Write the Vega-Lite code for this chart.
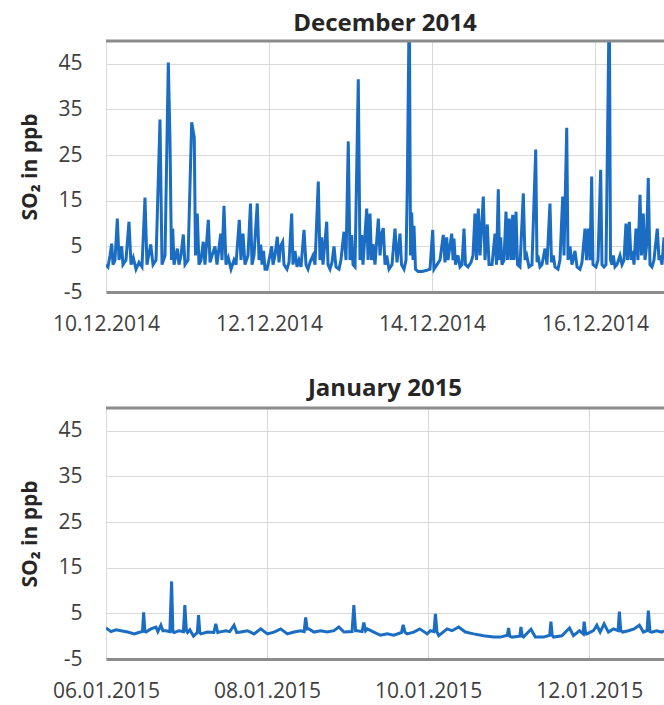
{
  "$schema": "https://vega.github.io/schema/vega-lite/v6.json",
  "padding": {"left": 19, "top": 11, "right": 0, "bottom": 6},
  "background": "white",
  "config": {
    "font": "Open Sans",
    "view": {"stroke": null},
    "title": {"fontSize": 24, "fontWeight": "bold", "color": "#262626", "font": "Open Sans", "offset": 4},
    "concat": {"spacing": 42},
    "axis": {"labelFont": "Open Sans", "labelColor": "#404040", "labelFontSize": 21, "ticks": false, "gridColor": "#d9d9d9", "gridWidth": 1, "titleFont": "Open Sans"},
    "axisX": {"domainColor": "#8c8c8c", "domainWidth": 3, "labelPadding": 21, "title": null, "labelFlush": false, "format": "%d.%m.%Y"},
    "axisY": {"domain": false, "labelPadding": 24, "titlePadding": 17, "titleFontSize": 21, "titleFontWeight": "bold", "titleColor": "#262626", "labelExpr": "'' + datum.value"}
  },
  "datasets": {
    "dec": [
      {"t":"2014-12-10T00:00","v":1.0},{"t":"2014-12-10T00:35","v":0.5},{"t":"2014-12-10T01:11","v":3},{"t":"2014-12-10T01:41","v":5.6},{"t":"2014-12-10T02:04","v":1},{"t":"2014-12-10T02:39","v":2},{"t":"2014-12-10T03:20","v":11.1},{"t":"2014-12-10T03:50","v":2},{"t":"2014-12-10T04:37","v":5},{"t":"2014-12-10T05:00","v":1},{"t":"2014-12-10T05:53","v":2},{"t":"2014-12-10T06:46","v":10.4},{"t":"2014-12-10T07:22","v":1},{"t":"2014-12-10T08:02","v":2.5},{"t":"2014-12-10T08:50","v":0},{"t":"2014-12-10T09:43","v":1.5},{"t":"2014-12-10T10:36","v":0.5},{"t":"2014-12-10T11:29","v":15.7},{"t":"2014-12-10T12:04","v":1},{"t":"2014-12-10T13:10","v":5.4},{"t":"2014-12-10T13:51","v":1},{"t":"2014-12-10T14:44","v":2},{"t":"2014-12-10T15:54","v":32.8},{"t":"2014-12-10T16:30","v":1},{"t":"2014-12-10T17:23","v":3},{"t":"2014-12-10T18:21","v":45.3},{"t":"2014-12-10T18:51","v":28},{"t":"2014-12-10T19:17","v":2},{"t":"2014-12-10T19:39","v":8.9},{"t":"2014-12-10T20:02","v":1},{"t":"2014-12-10T21:00","v":4.5},{"t":"2014-12-10T21:30","v":1},{"t":"2014-12-10T22:05","v":3},{"t":"2014-12-10T22:46","v":7.6},{"t":"2014-12-10T23:16","v":1},
      {"t":"2014-12-11T00:09","v":2},{"t":"2014-12-11T01:14","v":32.2},{"t":"2014-12-11T02:00","v":28.8},{"t":"2014-12-11T02:21","v":3},{"t":"2014-12-11T02:53","v":12.2},{"t":"2014-12-11T03:23","v":1},{"t":"2014-12-11T03:59","v":2},{"t":"2014-12-11T04:39","v":6},{"t":"2014-12-11T05:09","v":1},{"t":"2014-12-11T06:08","v":10.8},{"t":"2014-12-11T06:38","v":1.5},{"t":"2014-12-11T07:13","v":3},{"t":"2014-12-11T08:06","v":5},{"t":"2014-12-11T08:41","v":1},{"t":"2014-12-11T09:47","v":7.8},{"t":"2014-12-11T10:10","v":2},{"t":"2014-12-11T10:45","v":13.9},{"t":"2014-12-11T11:20","v":1},{"t":"2014-12-11T12:01","v":2.5},{"t":"2014-12-11T12:49","v":0},{"t":"2014-12-11T13:42","v":2},{"t":"2014-12-11T14:17","v":1},{"t":"2014-12-11T15:15","v":10.8},{"t":"2014-12-11T15:45","v":2},{"t":"2014-12-11T16:21","v":7.8},{"t":"2014-12-11T16:56","v":1},{"t":"2014-12-11T17:49","v":3},{"t":"2014-12-11T18:33","v":14.4},{"t":"2014-12-11T19:00","v":1},{"t":"2014-12-11T19:35","v":3},{"t":"2014-12-11T20:33","v":14.4},{"t":"2014-12-11T21:04","v":2},{"t":"2014-12-11T21:34","v":5.4},{"t":"2014-12-11T21:57","v":1},{"t":"2014-12-11T22:23","v":4},{"t":"2014-12-11T22:50","v":0},{"t":"2014-12-11T23:25","v":0},
      {"t":"2014-12-12T00:00","v":2},{"t":"2014-12-12T00:48","v":5},{"t":"2014-12-12T01:11","v":1},{"t":"2014-12-12T01:46","v":3},{"t":"2014-12-12T02:27","v":7.1},{"t":"2014-12-12T02:57","v":1.5},{"t":"2014-12-12T03:23","v":5},{"t":"2014-12-12T04:02","v":6},{"t":"2014-12-12T04:25","v":1},{"t":"2014-12-12T05:18","v":0},{"t":"2014-12-12T05:54","v":1.5},{"t":"2014-12-12T06:41","v":12.2},{"t":"2014-12-12T07:04","v":1},{"t":"2014-12-12T07:40","v":4},{"t":"2014-12-12T08:15","v":0.5},{"t":"2014-12-12T08:50","v":2},{"t":"2014-12-12T09:26","v":0.5},{"t":"2014-12-12T10:19","v":8.6},{"t":"2014-12-12T10:54","v":1},{"t":"2014-12-12T11:29","v":0},{"t":"2014-12-12T12:05","v":1.5},{"t":"2014-12-12T12:58","v":3},{"t":"2014-12-12T13:33","v":1},{"t":"2014-12-12T14:31","v":19.2},{"t":"2014-12-12T15:01","v":2},{"t":"2014-12-12T15:31","v":7},{"t":"2014-12-12T15:54","v":1},{"t":"2014-12-12T17:00","v":10.4},{"t":"2014-12-12T17:23","v":1},{"t":"2014-12-12T17:58","v":0},{"t":"2014-12-12T18:33","v":1.5},{"t":"2014-12-12T19:09","v":5},{"t":"2014-12-12T19:44","v":0.5},{"t":"2014-12-12T20:37","v":0},{"t":"2014-12-12T21:12","v":2},{"t":"2014-12-12T22:05","v":8.2},{"t":"2014-12-12T22:41","v":2},{"t":"2014-12-12T23:21","v":28},{"t":"2014-12-12T23:51","v":2},
      {"t":"2014-12-13T00:22","v":7.5},{"t":"2014-12-13T00:45","v":1},{"t":"2014-12-13T01:20","v":0.5},{"t":"2014-12-13T02:18","v":41.6},{"t":"2014-12-13T02:48","v":2},{"t":"2014-12-13T03:18","v":7.5},{"t":"2014-12-13T03:41","v":1},{"t":"2014-12-13T04:47","v":13.3},{"t":"2014-12-13T05:10","v":2},{"t":"2014-12-13T05:45","v":12.2},{"t":"2014-12-13T06:11","v":2},{"t":"2014-12-13T06:38","v":5.5},{"t":"2014-12-13T07:13","v":1},{"t":"2014-12-13T08:12","v":11.1},{"t":"2014-12-13T08:42","v":3},{"t":"2014-12-13T09:12","v":7.8},{"t":"2014-12-13T09:40","v":9},{"t":"2014-12-13T10:10","v":1},{"t":"2014-12-13T10:40","v":3},{"t":"2014-12-13T11:21","v":0},{"t":"2014-12-13T12:14","v":1},{"t":"2014-12-13T13:07","v":8.9},{"t":"2014-12-13T13:42","v":1.5},{"t":"2014-12-13T14:35","v":7.8},{"t":"2014-12-13T15:02","v":1},{"t":"2014-12-13T15:46","v":0},{"t":"2014-12-13T16:21","v":2},{"t":"2014-12-13T16:44","v":18.1},{"t":"2014-12-13T17:19","v":60},{"t":"2014-12-13T17:41","v":3},{"t":"2014-12-13T18:02","v":12.4},{"t":"2014-12-13T18:25","v":2},{"t":"2014-12-13T18:42","v":9.5},{"t":"2014-12-13T19:09","v":0},{"t":"2014-12-13T19:53","v":-0.5},{"t":"2014-12-13T21:04","v":-0.5},{"t":"2014-12-13T22:14","v":-0.3},{"t":"2014-12-13T23:25","v":0},
      {"t":"2014-12-14T00:13","v":8.6},{"t":"2014-12-14T00:36","v":0},{"t":"2014-12-14T01:29","v":1},{"t":"2014-12-14T02:22","v":2},{"t":"2014-12-14T03:20","v":7.5},{"t":"2014-12-14T03:50","v":1.5},{"t":"2014-12-14T04:20","v":7},{"t":"2014-12-14T04:43","v":2},{"t":"2014-12-14T05:49","v":7.8},{"t":"2014-12-14T06:12","v":2},{"t":"2014-12-14T06:29","v":6.7},{"t":"2014-12-14T06:56","v":1},{"t":"2014-12-14T07:40","v":3},{"t":"2014-12-14T08:15","v":0.5},{"t":"2014-12-14T08:51","v":1},{"t":"2014-12-14T09:26","v":8.9},{"t":"2014-12-14T09:52","v":1},{"t":"2014-12-14T10:37","v":0.5},{"t":"2014-12-14T11:30","v":1.5},{"t":"2014-12-14T12:05","v":3},{"t":"2014-12-14T12:40","v":12.2},{"t":"2014-12-14T13:07","v":2},{"t":"2014-12-14T13:39","v":13.3},{"t":"2014-12-14T14:09","v":3},{"t":"2014-12-14T15:07","v":15.9},{"t":"2014-12-14T15:37","v":2},{"t":"2014-12-14T16:18","v":9.8},{"t":"2014-12-14T16:48","v":1},{"t":"2014-12-14T17:41","v":1},{"t":"2014-12-14T18:34","v":7.8},{"t":"2014-12-14T19:00","v":1},{"t":"2014-12-14T19:32","v":17.5},{"t":"2014-12-14T19:53","v":2},{"t":"2014-12-14T20:14","v":7},{"t":"2014-12-14T20:37","v":1},{"t":"2014-12-14T21:13","v":2},{"t":"2014-12-14T21:48","v":12.6},{"t":"2014-12-14T22:15","v":2},{"t":"2014-12-14T22:46","v":11.1},{"t":"2014-12-14T23:16","v":2},{"t":"2014-12-14T23:46","v":11.9},
      {"t":"2014-12-15T00:09","v":2},{"t":"2014-12-15T00:45","v":12.6},{"t":"2014-12-15T01:11","v":1},{"t":"2014-12-15T01:55","v":0.5},{"t":"2014-12-15T02:54","v":16.6},{"t":"2014-12-15T03:24","v":2},{"t":"2014-12-15T03:54","v":3},{"t":"2014-12-15T04:34","v":0.5},{"t":"2014-12-15T05:27","v":1},{"t":"2014-12-15T06:33","v":26.2},{"t":"2014-12-15T06:56","v":1.5},{"t":"2014-12-15T07:13","v":3},{"t":"2014-12-15T07:49","v":0.5},{"t":"2014-12-15T08:24","v":1},{"t":"2014-12-15T09:17","v":4.5},{"t":"2014-12-15T09:52","v":1},{"t":"2014-12-15T10:45","v":14.4},{"t":"2014-12-15T11:12","v":1.5},{"t":"2014-12-15T11:44","v":3},{"t":"2014-12-15T12:14","v":0.5},{"t":"2014-12-15T13:07","v":0},{"t":"2014-12-15T13:42","v":2},{"t":"2014-12-15T14:30","v":15.9},{"t":"2014-12-15T14:53","v":3},{"t":"2014-12-15T15:41","v":31},{"t":"2014-12-15T16:04","v":2},{"t":"2014-12-15T16:39","v":5},{"t":"2014-12-15T17:14","v":1},{"t":"2014-12-15T18:07","v":4},{"t":"2014-12-15T18:43","v":0.5},{"t":"2014-12-15T19:36","v":0},{"t":"2014-12-15T20:11","v":1.5},{"t":"2014-12-15T21:04","v":8.9},{"t":"2014-12-15T21:30","v":2},{"t":"2014-12-15T22:02","v":8.9},{"t":"2014-12-15T22:32","v":2},{"t":"2014-12-15T23:02","v":20.3},{"t":"2014-12-15T23:25","v":1},
      {"t":"2014-12-16T00:18","v":0.5},{"t":"2014-12-16T00:54","v":2},{"t":"2014-12-16T01:41","v":21.8},{"t":"2014-12-16T02:04","v":1},{"t":"2014-12-16T02:40","v":0.5},{"t":"2014-12-16T03:15","v":1},{"t":"2014-12-16T04:13","v":60},{"t":"2014-12-16T04:35","v":2},{"t":"2014-12-16T05:01","v":1},{"t":"2014-12-16T05:24","v":3},{"t":"2014-12-16T05:54","v":0.5},{"t":"2014-12-16T06:29","v":1},{"t":"2014-12-16T07:22","v":3},{"t":"2014-12-16T07:58","v":1},{"t":"2014-12-16T08:33","v":2},{"t":"2014-12-16T09:08","v":10},{"t":"2014-12-16T09:35","v":2},{"t":"2014-12-16T10:07","v":10.4},{"t":"2014-12-16T10:37","v":2},{"t":"2014-12-16T11:07","v":4},{"t":"2014-12-16T11:30","v":1},{"t":"2014-12-16T12:05","v":8.9},{"t":"2014-12-16T12:40","v":2},{"t":"2014-12-16T13:16","v":16.3},{"t":"2014-12-16T13:42","v":3},{"t":"2014-12-16T14:14","v":12.2},{"t":"2014-12-16T14:44","v":2},{"t":"2014-12-16T15:11","v":5},{"t":"2014-12-16T15:42","v":20},{"t":"2014-12-16T16:12","v":1},{"t":"2014-12-16T16:48","v":0.5},{"t":"2014-12-16T17:23","v":2},{"t":"2014-12-16T18:21","v":8.9},{"t":"2014-12-16T18:52","v":2},{"t":"2014-12-16T19:09","v":3},{"t":"2014-12-16T19:45","v":1},{"t":"2014-12-16T20:20","v":7}
    ],
    "jan": [
      {"t":"2015-01-06T00:00","v":1.8},{"t":"2015-01-06T01:29","v":1.0},{"t":"2015-01-06T02:58","v":1.4},{"t":"2015-01-06T04:28","v":1.2},{"t":"2015-01-06T06:27","v":0.9},{"t":"2015-01-06T08:25","v":0.5},{"t":"2015-01-06T10:12","v":0.9},{"t":"2015-01-06T10:52","v":1.0},{"t":"2015-01-06T11:13","v":5.2},{"t":"2015-01-06T11:36","v":1.0},{"t":"2015-01-06T11:54","v":0.9},{"t":"2015-01-06T13:23","v":1.6},{"t":"2015-01-06T14:53","v":2.0},{"t":"2015-01-06T15:28","v":1.0},{"t":"2015-01-06T16:22","v":2.4},{"t":"2015-01-06T16:57","v":1.2},{"t":"2015-01-06T17:51","v":1.2},{"t":"2015-01-06T19:02","v":1.0},{"t":"2015-01-06T19:33","v":12},{"t":"2015-01-06T19:56","v":1.0},{"t":"2015-01-06T20:19","v":0.8},{"t":"2015-01-06T21:49","v":1.2},{"t":"2015-01-06T23:04","v":1.0},{"t":"2015-01-06T23:30","v":6.8},{"t":"2015-01-06T23:57","v":1.2},
      {"t":"2015-01-07T00:18","v":0.8},{"t":"2015-01-07T00:59","v":1.4},{"t":"2015-01-07T02:05","v":0},{"t":"2015-01-07T03:13","v":0.8},{"t":"2015-01-07T03:35","v":4.6},{"t":"2015-01-07T03:58","v":0.8},{"t":"2015-01-07T04:16","v":0.5},{"t":"2015-01-07T06:15","v":0.9},{"t":"2015-01-07T08:08","v":0.8},{"t":"2015-01-07T08:43","v":2.7},{"t":"2015-01-07T09:19","v":0.8},{"t":"2015-01-07T09:42","v":0.9},{"t":"2015-01-07T11:42","v":1.2},{"t":"2015-01-07T12:53","v":1.0},{"t":"2015-01-07T14:10","v":2.4},{"t":"2015-01-07T14:58","v":0.8},{"t":"2015-01-07T16:10","v":0.9},{"t":"2015-01-07T18:09","v":1.2},{"t":"2015-01-07T20:07","v":0.5},{"t":"2015-01-07T22:07","v":1.6},
      {"t":"2015-01-08T00:06","v":0.5},{"t":"2015-01-08T02:04","v":0.9},{"t":"2015-01-08T04:04","v":1.6},{"t":"2015-01-08T06:03","v":0.5},{"t":"2015-01-08T08:01","v":0.9},{"t":"2015-01-08T10:01","v":1.2},{"t":"2015-01-08T11:03","v":1.0},{"t":"2015-01-08T11:30","v":4.1},{"t":"2015-01-08T11:57","v":1.6},{"t":"2015-01-08T12:29","v":1.6},{"t":"2015-01-08T13:58","v":0.9},{"t":"2015-01-08T15:58","v":1.2},{"t":"2015-01-08T17:57","v":0.9},{"t":"2015-01-08T19:55","v":1.2},{"t":"2015-01-08T21:24","v":2.0},{"t":"2015-01-08T22:54","v":0.9},
      {"t":"2015-01-09T01:20","v":1.0},{"t":"2015-01-09T01:52","v":6.8},{"t":"2015-01-09T02:23","v":1.2},{"t":"2015-01-09T02:53","v":1.2},{"t":"2015-01-09T04:19","v":1.0},{"t":"2015-01-09T04:51","v":3.0},{"t":"2015-01-09T05:21","v":1.2},{"t":"2015-01-09T05:51","v":1.6},{"t":"2015-01-09T07:49","v":0.9},{"t":"2015-01-09T09:49","v":0.2},{"t":"2015-01-09T11:48","v":0.5},{"t":"2015-01-09T13:46","v":0.2},{"t":"2015-01-09T16:04","v":0.8},{"t":"2015-01-09T16:34","v":2.5},{"t":"2015-01-09T17:06","v":0.9},{"t":"2015-01-09T17:45","v":0.5},{"t":"2015-01-09T19:43","v":0.9},{"t":"2015-01-09T21:31","v":1.6},{"t":"2015-01-09T23:43","v":0.5},
      {"t":"2015-01-10T00:41","v":1.2},{"t":"2015-01-10T01:44","v":1.0},{"t":"2015-01-10T02:11","v":4.9},{"t":"2015-01-10T02:37","v":1.0},{"t":"2015-01-10T03:10","v":0.1},{"t":"2015-01-10T05:40","v":1.6},{"t":"2015-01-10T07:08","v":1.2},{"t":"2015-01-10T09:06","v":2.0},{"t":"2015-01-10T11:06","v":0.9},{"t":"2015-01-10T13:34","v":0.5},{"t":"2015-01-10T16:33","v":0.1},{"t":"2015-01-10T19:31","v":-0.2},{"t":"2015-01-10T21:31","v":-0.2},{"t":"2015-01-10T23:36","v":0.2},{"t":"2015-01-10T23:59","v":1.8},
      {"t":"2015-01-11T00:20","v":0.0},{"t":"2015-01-11T00:59","v":-0.2},{"t":"2015-01-11T03:19","v":0.0},{"t":"2015-01-11T03:40","v":2.0},{"t":"2015-01-11T04:03","v":0.0},{"t":"2015-01-11T04:26","v":-0.2},{"t":"2015-01-11T06:39","v":1.5},{"t":"2015-01-11T07:56","v":-0.2},{"t":"2015-01-11T10:24","v":-0.2},{"t":"2015-01-11T12:14","v":0.2},{"t":"2015-01-11T12:36","v":3.2},{"t":"2015-01-11T12:59","v":0.2},{"t":"2015-01-11T13:22","v":-0.2},{"t":"2015-01-11T15:52","v":0.1},{"t":"2015-01-11T18:08","v":1.8},{"t":"2015-01-11T19:19","v":0.1},{"t":"2015-01-11T21:07","v":1.2},{"t":"2015-01-11T22:13","v":0.5},{"t":"2015-01-11T22:30","v":3.2},{"t":"2015-01-11T22:57","v":0.5},{"t":"2015-01-11T23:18","v":0.5},
      {"t":"2015-01-12T01:16","v":1.2},{"t":"2015-01-12T02:17","v":2.4},{"t":"2015-01-12T03:16","v":0.9},{"t":"2015-01-12T04:27","v":2.7},{"t":"2015-01-12T05:44","v":0.9},{"t":"2015-01-12T07:13","v":1.6},{"t":"2015-01-12T08:37","v":1.2},{"t":"2015-01-12T09:00","v":5.4},{"t":"2015-01-12T09:25","v":1.2},{"t":"2015-01-12T10:01","v":0.9},{"t":"2015-01-12T11:41","v":1.2},{"t":"2015-01-12T13:23","v":1.6},{"t":"2015-01-12T14:58","v":2.4},{"t":"2015-01-12T16:09","v":0.9},{"t":"2015-01-12T17:15","v":1.2},{"t":"2015-01-12T17:38","v":5.6},{"t":"2015-01-12T18:08","v":1.0},{"t":"2015-01-12T18:38","v":0.9},{"t":"2015-01-12T20:08","v":1.2},{"t":"2015-01-12T21:37","v":0.9},{"t":"2015-01-12T22:18","v":1.2}
    ]
  },
  "vconcat": [
    {
      "title": "December 2014",
      "width": 558,
      "height": 251,
      "layer": [
        {
          "data": {"name": "dec"},
          "mark": {"type": "line", "color": "#1a6dc2", "strokeWidth": 3, "clip": true},
          "encoding": {
            "x": {"field": "t", "type": "temporal",
                  "scale": {"domain": [{"year": 2014, "month": 12, "date": 10, "hours": 0}, {"year": 2014, "month": 12, "date": 16, "hours": 20, "minutes": 20}]},
                  "axis": {"values": [{"year": 2014, "month": 12, "date": 10}, {"year": 2014, "month": 12, "date": 12}, {"year": 2014, "month": 12, "date": 14}, {"year": 2014, "month": 12, "date": 16}]}},
            "y": {"field": "v", "type": "quantitative", "scale": {"domain": [-5, 50], "nice": false, "zero": false}, "axis": {"title": "SO₂ in ppb", "values": [-5, 5, 15, 25, 35, 45]}}
          }
        },
        {
          "data": {"values": [{}]},
          "mark": {"type": "rule", "color": "#8c8c8c", "strokeWidth": 3},
          "encoding": {"y": {"datum": 50, "type": "quantitative"}}
        }
      ]
    },
    {
      "title": {"text": "January 2015", "offset": 6},
      "width": 558,
      "height": 251,
      "layer": [
        {
          "data": {"name": "jan"},
          "mark": {"type": "line", "color": "#1a6dc2", "strokeWidth": 3, "clip": true},
          "encoding": {
            "x": {"field": "t", "type": "temporal",
                  "scale": {"domain": [{"year": 2015, "month": 1, "date": 6, "hours": 0}, {"year": 2015, "month": 1, "date": 12, "hours": 22, "minutes": 18}]},
                  "axis": {"values": [{"year": 2015, "month": 1, "date": 6}, {"year": 2015, "month": 1, "date": 8}, {"year": 2015, "month": 1, "date": 10}, {"year": 2015, "month": 1, "date": 12}]}},
            "y": {"field": "v", "type": "quantitative", "scale": {"domain": [-5, 50], "nice": false, "zero": false}, "axis": {"title": "SO₂ in ppb", "values": [-5, 5, 15, 25, 35, 45]}}
          }
        },
        {
          "data": {"values": [{}]},
          "mark": {"type": "rule", "color": "#8c8c8c", "strokeWidth": 3},
          "encoding": {"y": {"datum": 50, "type": "quantitative"}}
        }
      ]
    }
  ]
}
